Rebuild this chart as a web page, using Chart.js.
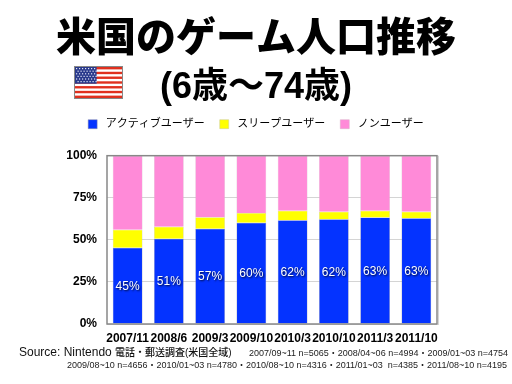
<!DOCTYPE html>
<html><head><meta charset="utf-8">
<style>html,body{margin:0;padding:0;background:#fff}#w{width:512px;height:384px;position:relative}</style>
<script src="https://cdn.jsdelivr.net/npm/chart.js@4"></script>
</head><body><div id="w"><canvas id="c" width="512" height="384"></canvas></div>
<script>
const categories=["2007/11","2008/6","2009/3","2009/10","2010/3","2010/10","2011/3","2011/10"];
const activeUsers=[45.3,50.7,56.6,60.2,61.6,62.2,63.2,62.8];
const sleepUsers=[10.7,7.1,6.8,5.8,5.7,4.5,4.1,3.9];
const nonUsers=[44.0,42.2,36.6,34.0,32.7,33.3,32.7,33.3];
const seriesNames=[" アクティブユーザー"," スリープユーザー"," ノンユーザー"];
const yTicks=[0,25,50,75,100];
const titleText="米国のゲーム人口推移";
const subtitleText="(6歳〜74歳)";
const sourceLatin="Source: Nintendo";
const sourceCjk="電話・郵送調査(米国全域)";
const sampleLine1="2007/09~11 n=5065・2008/04~06 n=4994・2009/01~03 n=4754";
const sampleLine2="2009/08~10 n=4656・2010/01~03 n=4780・2010/08~10 n=4316・2011/01~03  n=4385・2011/08~10 n=4195";
const FF='"Liberation Sans","Noto Sans CJK JP",sans-serif';

const decor={id:'decor',
 beforeLayout(chart){
  const lg=chart.legend;
  if(!lg._wrapped){const f=lg.fit;lg.fit=function(){f.call(this);this.height+=16;};lg._wrapped=true;}
 },
 afterDatasetsDraw(chart){
  const c=chart.ctx,a=chart.chartArea;
  c.save();
  c.strokeStyle='#d6d6d6';c.lineWidth=1;
  c.beginPath();c.moveTo(a.right+1.5,a.top);c.lineTo(a.right+1.5,a.bottom+1);c.stroke();
  c.strokeStyle='#888';c.lineWidth=1.5;c.strokeRect(a.left,a.top,a.right-a.left,a.bottom-a.top);
  const m=chart.getDatasetMeta(0);
  c.font='12px '+FF;c.textAlign='center';c.textBaseline='middle';
  m.data.forEach((el,i)=>{
   c.shadowColor='rgba(0,0,0,.85)';c.shadowBlur=2;c.shadowOffsetX=1;c.shadowOffsetY=1;
   c.fillStyle='#fff';
   c.fillText(Math.round(activeUsers[i])+'%',el.x,(el.y+el.base)/2+1);
  });
  c.restore();
 },
 afterDraw(chart){
  const c=chart.ctx;
  c.save();
  c.fillStyle='#111';c.textBaseline='middle';
  c.textAlign='left';c.font='12px '+FF;c.fillText(sourceLatin,19,353);
  c.font='500 10px '+FF;c.fillText(sourceCjk,115,353);
  c.textAlign='right';c.font='9px '+FF;c.fillStyle='#222';
  c.fillText(sampleLine1,508,354);c.fillText(sampleLine2,507,366);
  // flag
  const fx=75,fy=67,fw=47,fh=31;
  c.fillStyle='#fff';c.fillRect(fx,fy,fw,fh);
  c.fillStyle='#e0301e';
  for(let i=0;i<13;i+=2)c.fillRect(fx,fy+i*fh/13,fw,fh/13);
  c.fillStyle='#2a3a8c';c.fillRect(fx,fy,fw*0.46,fh*7/13);
  c.fillStyle='#dfe3f5';
  for(let r=0;r<6;r++)for(let k=0;k<7;k++)c.fillRect(fx+1+k*3+(r%2?1.5:0),fy+1+r*2.6,1.2,1.2);
  c.strokeStyle='#888';c.lineWidth=1;c.strokeRect(fx-.5,fy-.5,fw+1,fh+1);
  c.restore();
 }};

new Chart(document.getElementById('c'),{
 type:'bar',
 data:{labels:categories,datasets:[
  {label:seriesNames[0],data:activeUsers,backgroundColor:'#0433ff',borderColor:'#8f8fa8',borderWidth:0.5},
  {label:seriesNames[1],data:sleepUsers,backgroundColor:'#ffff00',borderColor:'#c8c8a0',borderWidth:0.5},
  {label:seriesNames[2],data:nonUsers,backgroundColor:'#ff8ad8',borderColor:'#d8b0c8',borderWidth:0.5}
 ]},
 plugins:[decor],
 options:{
  responsive:false,animation:false,
  layout:{padding:0},
  datasets:{bar:{categoryPercentage:1,barPercentage:0.72}},
  plugins:{
   tooltip:{enabled:false},
   title:{display:true,text:titleText,color:'#000',font:{family:'"Noto Sans CJK JP"',size:40,weight:900,lineHeight:1.2},padding:{top:12,bottom:12}},
   subtitle:{display:true,text:subtitleText,color:'#000',font:{family:FF,size:36,weight:'bold',lineHeight:0.88},padding:{top:0,bottom:0}},
   legend:{display:true,position:'top',labels:{boxWidth:9,boxHeight:9,padding:15,color:'#000',font:{family:FF,size:11}}}
  },
  scales:{
   x:{stacked:true,grid:{display:false,drawTicks:false},border:{display:false},
      afterFit(s){s.height=60;},
      ticks:{autoSkip:false,maxRotation:0,minRotation:0,padding:7,color:'#000',font:{family:FF,size:12,weight:'bold'}}},
   y:{stacked:true,min:0,max:100,
      afterFit(s){s.width=107;},
      afterBuildTicks(s){s.ticks=yTicks.map(v=>({value:v}));},
      border:{display:false},
      grid:{color:'#d4d4d4',lineWidth:1,drawTicks:false},
      ticks:{padding:10,color:'#000',font:{family:FF,size:12,weight:'bold'},callback:v=>v+'%'}},
   rightGutter:{position:'right',min:0,max:100,
      afterFit(s){s.width=75;},
      border:{display:false},grid:{display:false,drawTicks:false},
      ticks:{callback:()=>''}}
  }
 }
});
</script></body></html>
